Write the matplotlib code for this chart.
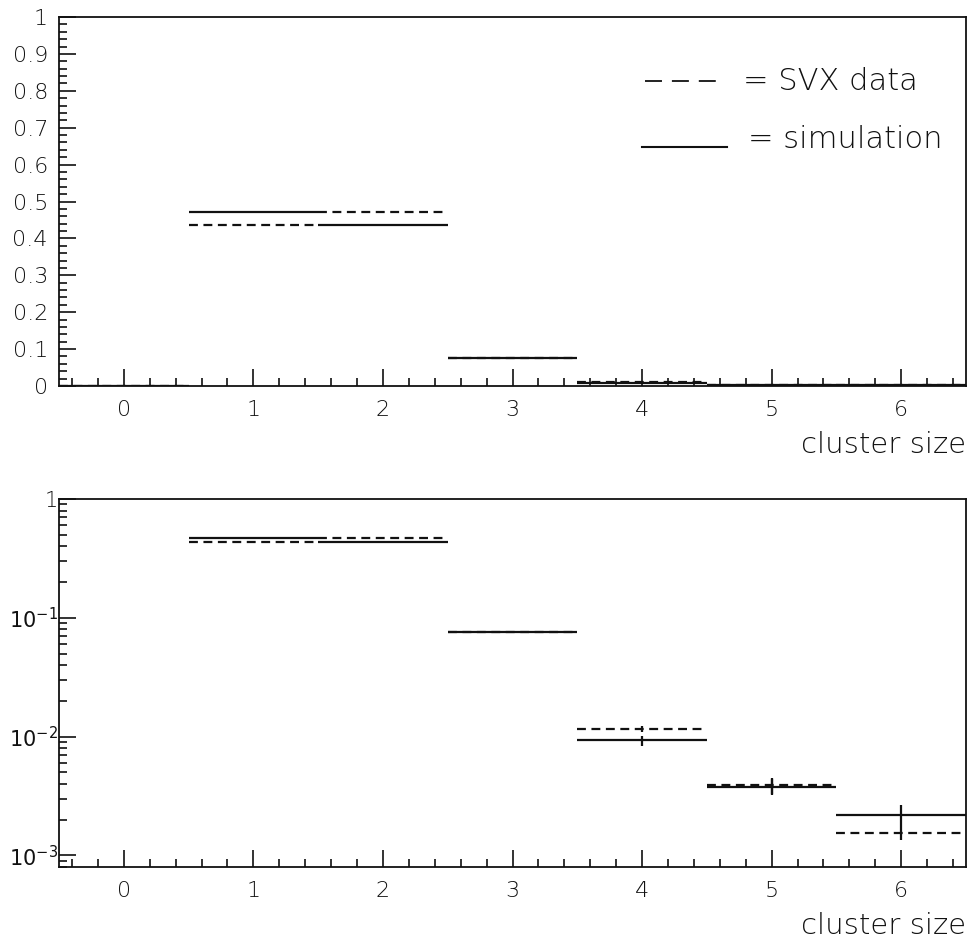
import numpy as np
import matplotlib
matplotlib.use('Agg')
import matplotlib.pyplot as plt
from matplotlib.ticker import MultipleLocator, LogLocator, NullFormatter, FixedLocator

plt.rcParams['font.family'] = ['DejaVu Sans']
plt.rcParams['mathtext.fontset'] = 'dejavusans'

# cluster size bins and fractions
cluster_size = [0, 1, 2, 3, 4, 5, 6]
svx_data = [0.0, 0.437, 0.472, 0.0760, 0.0116, 0.0039, 0.00155]
svx_err = [0.0, 0.002, 0.002, 0.0012, 0.0006, 0.0006, 0.0002]
simulation = [0.0, 0.472, 0.436, 0.0755, 0.0093, 0.0038, 0.0022]
sim_err = [0.0, 0.002, 0.002, 0.0012, 0.0009, 0.0006, 0.00045]

ink = '#111111'
dash = (0, (4, 2.5))

fig = plt.figure(figsize=(9.71, 9.43), dpi=100)
ax_lin = fig.add_axes([59 / 971, 1 - 386 / 943, 907 / 971, 369 / 943])
ax_log = fig.add_axes([59 / 971, 1 - 867 / 943, 907 / 971, 368 / 943])


def draw_hist(ax, log=False):
    x = np.array(cluster_size, dtype=float)
    for vals, errs, ls in [(svx_data, svx_err, dash), (simulation, sim_err, '-')]:
        v = np.array(vals)
        e = np.array(errs)
        keep = v > 0 if log else np.ones(len(v), bool)
        ax.hlines(v[keep], x[keep] - 0.5, x[keep] + 0.5, colors=ink,
                  linestyles=[ls], linewidth=1.6, zorder=3)
        ax.errorbar(x[keep], v[keep], yerr=e[keep], fmt='none', ecolor=ink,
                    elinewidth=1.6, capsize=0, zorder=3)


def style_axes(ax, ypad=8):
    ax.set_xlim(-0.5, 6.5)
    ax.xaxis.set_major_locator(MultipleLocator(1))
    ax.xaxis.set_minor_locator(MultipleLocator(0.2))
    ax.tick_params(axis='both', which='both', direction='in', top=False,
                   right=False, colors=ink, labelsize=16, width=1.2)
    ax.tick_params(axis='both', which='major', length=12)
    ax.tick_params(axis='both', which='minor', length=6)
    ax.tick_params(axis='x', pad=10)
    ax.tick_params(axis='y', pad=ypad)
    for sp in ax.spines.values():
        sp.set_linewidth(1.3)
        sp.set_color(ink)
    for lab in ax.get_xticklabels() + ax.get_yticklabels():
        lab.set_fontweight('light')
    ax.text(1.0, -0.16, 'cluster size', transform=ax.transAxes, ha='right',
            va='center', fontsize=21, color=ink, fontweight='light')


# top: linear scale
draw_hist(ax_lin)
ax_lin.set_ylim(0, 1)
ax_lin.yaxis.set_major_locator(MultipleLocator(0.1))
ax_lin.yaxis.set_minor_locator(MultipleLocator(0.02))
ax_lin.set_yticks(np.arange(0, 1.01, 0.1))
ax_lin.set_yticklabels(['0', '0.1', '0.2', '0.3', '0.4', '0.5', '0.6', '0.7',
                        '0.8', '0.9', '1'])
style_axes(ax_lin)

# legend drawn by hand
ax_lin.plot([0.646, 0.724], [0.826, 0.826], transform=ax_lin.transAxes,
            color=ink, lw=1.3, linestyle=(0, (9.4, 5.5)))
ax_lin.text(0.754, 0.826, '= SVX data', transform=ax_lin.transAxes,
            va='center', fontsize=22, color=ink, fontweight='light')
ax_lin.plot([0.643, 0.736], [0.648, 0.648], transform=ax_lin.transAxes,
            color=ink, lw=1.5)
ax_lin.text(0.760, 0.668, '= simulation', transform=ax_lin.transAxes,
            va='center', fontsize=22, color=ink, fontweight='light')

# bottom: log scale
draw_hist(ax_log, log=True)
ax_log.set_yscale('log')
ax_log.set_ylim(10 ** -3.097, 1)
ax_log.yaxis.set_major_locator(FixedLocator([1e-3, 1e-2, 1e-1, 1]))
ax_log.yaxis.set_minor_locator(LogLocator(base=10, subs=np.arange(2, 10)))
ax_log.yaxis.set_minor_formatter(NullFormatter())
ax_log.set_yticklabels(['$10^{-3}$', '$10^{-2}$', '$10^{-1}$', '1'])
style_axes(ax_log, ypad=1)
for lab in ax_log.get_yticklabels():
    lab.set_fontsize(15)

fig.savefig('out.png', dpi=100)
